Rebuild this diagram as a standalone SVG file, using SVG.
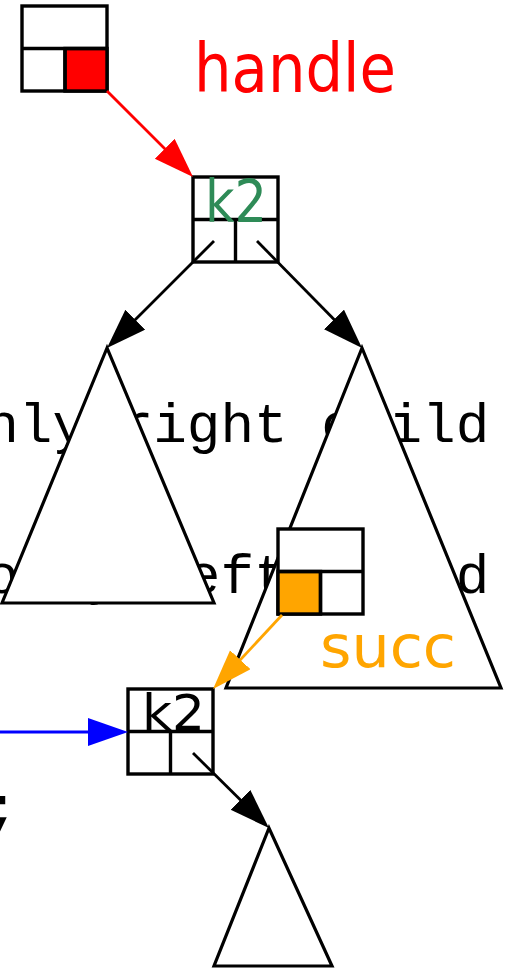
<svg xmlns="http://www.w3.org/2000/svg" width="513" height="968" viewBox="0 0 513 968">
<style>
.bg{font-family:"Liberation Mono","DejaVu Sans Mono",monospace;font-size:56px;fill:#000}
.box{fill:#fff;stroke:#000;stroke-width:3.4}
.ln{stroke:#000;stroke-width:3.4;fill:none}
.tri{fill:#fff;stroke:#000;stroke-width:3.2;stroke-linejoin:miter}
.lbl{font-family:"DejaVu Sans","Liberation Sans",sans-serif}
.edge{stroke-width:2.8;fill:none}
</style>
<defs>
<marker id="ahK" markerUnits="userSpaceOnUse" markerWidth="42" markerHeight="30" refX="10" refY="14" orient="auto" viewBox="0 0 42 30"><path d="M0,0 L40,14 L0,28 z" fill="#000"/></marker>
<marker id="ahR" markerUnits="userSpaceOnUse" markerWidth="42" markerHeight="30" refX="10" refY="14" orient="auto" viewBox="0 0 42 30"><path d="M0,0 L40,14 L0,28 z" fill="#f00"/></marker>
<marker id="ahO" markerUnits="userSpaceOnUse" markerWidth="42" markerHeight="30" refX="10" refY="14" orient="auto" viewBox="0 0 42 30"><path d="M0,0 L40,14 L0,28 z" fill="#ffa500"/></marker>
<marker id="ahB" markerUnits="userSpaceOnUse" markerWidth="42" markerHeight="30" refX="10" refY="14" orient="auto" viewBox="0 0 42 30"><path d="M0,0 L40,14 L0,28 z" fill="#00f"/></marker>
</defs>
<rect width="513" height="968" fill="#fff"/>
<g id="background-text">
<text class="bg" x="-14.8" y="442">nly right child</text>
<text class="bg" x="-14.8" y="593">only left child</text>
<text class="bg" x="-14.8" y="825">;</text>
</g>
<g id="subtree-left"><polygon class="tri" points="107,348 2,603 214,603"/></g>
<g id="subtree-right"><polygon class="tri" points="362,348 226,688 501,688"/></g>
<g id="subtree-bottom"><polygon class="tri" points="269,828 214,966 332,966"/></g>
<g id="handle-node">
<rect class="box" x="22" y="6" width="85" height="85"/>
<rect x="65" y="48.5" width="42" height="42.5" fill="#f00" stroke="#000" stroke-width="3.4"/>
<line class="ln" x1="22" y1="48.5" x2="107" y2="48.5"/>
<line class="ln" x1="65" y1="48.5" x2="65" y2="91"/>
</g>
<text id="handle-label" class="lbl" x="194" y="92" font-size="68" fill="#f00" textLength="202" lengthAdjust="spacingAndGlyphs">handle</text>
<g id="root-node">
<rect class="box" x="193" y="177" width="85" height="85"/>
<line class="ln" x1="193" y1="219.5" x2="278" y2="219.5"/>
<line class="ln" x1="235.5" y1="219.5" x2="235.5" y2="262"/>
<text class="lbl" x="205" y="222" font-size="58" fill="#2e8b57" textLength="62" lengthAdjust="spacingAndGlyphs">k2</text>
</g>
<g id="succ-node">
<rect class="box" x="278" y="529" width="85" height="85"/>
<rect x="278" y="571.5" width="42.5" height="42.5" fill="#ffa500" stroke="#000" stroke-width="3.4"/>
<line class="ln" x1="278" y1="571.5" x2="363" y2="571.5"/>
<line class="ln" x1="320.5" y1="571.5" x2="320.5" y2="614"/>
</g>
<text id="succ-label" class="lbl" x="320" y="667" font-size="59" fill="#ffa500" textLength="136" lengthAdjust="spacingAndGlyphs">succ</text>
<g id="k2-node">
<rect class="box" x="128" y="689" width="85" height="85"/>
<line class="ln" x1="128" y1="731.5" x2="213" y2="731.5"/>
<line class="ln" x1="170.5" y1="731.5" x2="170.5" y2="774"/>
<text class="lbl" x="142" y="730" font-size="50" fill="#000" textLength="63" lengthAdjust="spacingAndGlyphs">k2</text>
</g>
<g id="connectors">
<line class="edge" stroke="#f00" x1="107" y1="91" x2="171.8" y2="155.8" marker-end="url(#ahR)"/>
<line class="edge" stroke="#000" x1="214" y1="241" x2="128.2" y2="326.8" marker-end="url(#ahK)"/>
<line class="edge" stroke="#000" x1="257" y1="241" x2="341" y2="326.6" marker-end="url(#ahK)"/>
<line class="edge" stroke="#ffa500" x1="282" y1="615" x2="233.5" y2="667.1" marker-end="url(#ahO)"/>
<line class="edge" stroke="#00f" x1="0" y1="732" x2="98" y2="732" marker-end="url(#ahB)"/>
<line class="edge" stroke="#000" x1="193" y1="753" x2="247.6" y2="806.9" marker-end="url(#ahK)"/>
</g>
</svg>
